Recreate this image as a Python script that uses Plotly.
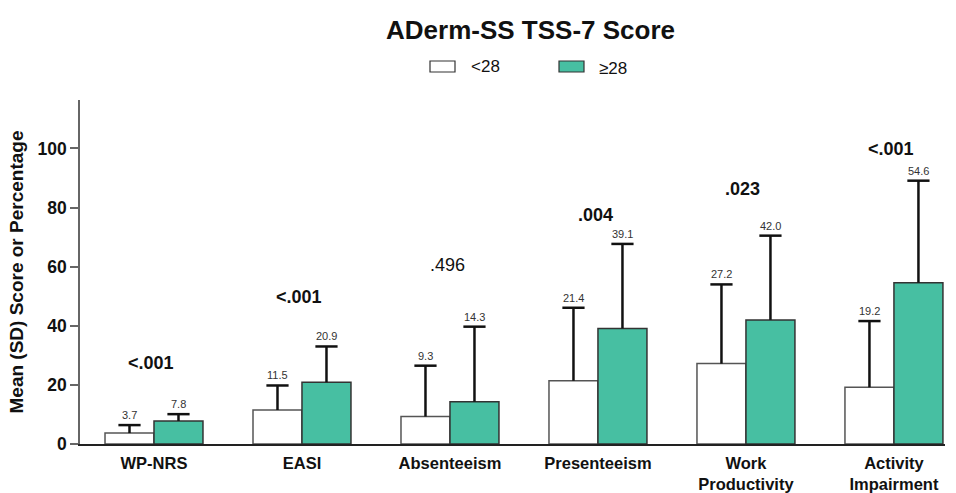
import plotly.graph_objects as go

# Outcome categories and group summaries (mean and SD)
categories = ["WP-NRS", "EASI", "Absenteeism", "Presenteeism",
              "Work<br>Productivity", "Activity<br>Impairment"]
mean_lt28 = [3.7, 11.5, 9.3, 21.4, 27.2, 19.2]
sd_lt28 = [2.7, 8.3, 17.2, 24.7, 26.8, 22.4]
mean_ge28 = [7.8, 20.9, 14.3, 39.1, 42.0, 54.6]
sd_ge28 = [2.3, 12.1, 25.4, 28.6, 28.5, 34.5]
p_values = ["<.001", "<.001", ".496", ".004", ".023", "<.001"]
p_bold = [True, True, False, True, True, True]
p_heights = [27.5, 49.7, 60.7, 77.5, 86.2, 99.7]
series_names = ["<28", "≥28"]
y_ticks = [0, 20, 40, 60, 80, 100]

GREEN = "#47BFA2"
FONT = "Liberation Sans, Arial, sans-serif"
BAR_W = 0.331      # bar width in category units
CAP = 0.075        # half-width of the error-bar cap

idx = list(range(len(categories)))
fig = go.Figure()

fig.add_trace(go.Bar(
    x=idx, y=mean_lt28, name=series_names[0], width=BAR_W, offset=-BAR_W,
    marker=dict(color="white", line=dict(color="#555555", width=1.5)),
))
fig.add_trace(go.Bar(
    x=idx, y=mean_ge28, name=series_names[1], width=BAR_W, offset=0,
    marker=dict(color=GREEN, line=dict(color="#333333", width=1.5)),
))

# Upper-only SD whiskers with a cap at the top
ex, ey = [], []
for i in idx:
    for xc, m, s in ((i - BAR_W / 2, mean_lt28[i], sd_lt28[i]),
                     (i + BAR_W / 2, mean_ge28[i], sd_ge28[i])):
        ex += [xc, xc, None, xc - CAP, xc + CAP, None]
        ey += [m, m + s, None, m + s, m + s, None]
fig.add_trace(go.Scatter(x=ex, y=ey, mode="lines",
                         line=dict(color="#111111", width=2.5),
                         hoverinfo="skip", showlegend=False))

annotations = []
for i in idx:
    # Mean labels above each cap
    for xc, m, s in ((i - BAR_W / 2, mean_lt28[i], sd_lt28[i]),
                     (i + BAR_W / 2, mean_ge28[i], sd_ge28[i])):
        annotations.append(dict(
            x=xc, y=m + s, xref="x", yref="y",
            text=f"{m:.1f}", showarrow=False, yanchor="bottom", yshift=2,
            font=dict(family=FONT, size=11, color="#333333"),
        ))
    # p-value per outcome
    txt = f"<b>{p_values[i]}</b>" if p_bold[i] else p_values[i]
    annotations.append(dict(
        x=i - 0.02, y=p_heights[i], xref="x", yref="y", text=txt,
        showarrow=False, font=dict(family=FONT, size=18, color="#111111"),
    ))

fig.update_layout(
    width=956, height=493,
    margin=dict(l=80, r=11, t=100, b=49, autoexpand=False),
    plot_bgcolor="white", paper_bgcolor="white",
    font=dict(family=FONT, color="#111111"),
    showlegend=False,
    xaxis=dict(
        range=[-0.5, 5.345], tickvals=idx, automargin=False,
        ticktext=[f"<b>{c}</b>" for c in categories],
        showline=True, linecolor="#222222", linewidth=1.5,
        ticks="", showgrid=False, zeroline=False, ticklabelstandoff=3,
        tickfont=dict(family=FONT, size=16.5, color="#111111"),
    ),
    yaxis=dict(
        range=[0, 116.4], tickvals=y_ticks, automargin=False,
        ticktext=[f"<b>{t}</b>" for t in y_ticks],
        showline=True, linecolor="#666666", linewidth=1.5,
        ticks="outside", ticklen=8, tickcolor="#666666", tickwidth=1.5,
        showgrid=False, zeroline=False,
        tickfont=dict(family=FONT, size=17.5, color="#111111"),
        title=dict(text="<b>Mean (SD) Score or Percentage</b>",
                   font=dict(family=FONT, size=19, color="#111111"), standoff=9),
    ),
)

# Title and legend, positioned in pixels converted to paper coordinates
W, H = 956, 493
pw, ph = W - 80 - 11, H - 100 - 49


def px(xpix):
    return (xpix - 80) / pw


def py(ypix):
    return (H - 49 - ypix) / ph


annotations.append(dict(
    x=px(530), y=py(30), xref="paper", yref="paper", xanchor="center",
    yanchor="middle", text="<b>ADerm-SS TSS-7 Score</b>", showarrow=False,
    font=dict(family=FONT, size=26, color="#111111"),
))
shapes = [
    dict(type="rect", xref="paper", yref="paper",
         x0=px(430), x1=px(455), y0=py(72), y1=py(61),
         fillcolor="white", line=dict(color="#333333", width=1.2)),
    dict(type="rect", xref="paper", yref="paper",
         x0=px(559), x1=px(584), y0=py(72), y1=py(61),
         fillcolor=GREEN, line=dict(color="#333333", width=1.2)),
]
annotations.append(dict(x=px(469), y=py(66), xref="paper", yref="paper",
                        text=series_names[0], showarrow=False, xanchor="left",
                        yanchor="middle",
                        font=dict(family=FONT, size=17, color="#111111")))
annotations.append(dict(x=px(597), y=py(68), xref="paper", yref="paper",
                        text=series_names[1], showarrow=False, xanchor="left",
                        yanchor="middle",
                        font=dict(family=FONT, size=17, color="#111111")))

fig.update_layout(annotations=annotations, shapes=shapes)
fig.write_html("out.html")
